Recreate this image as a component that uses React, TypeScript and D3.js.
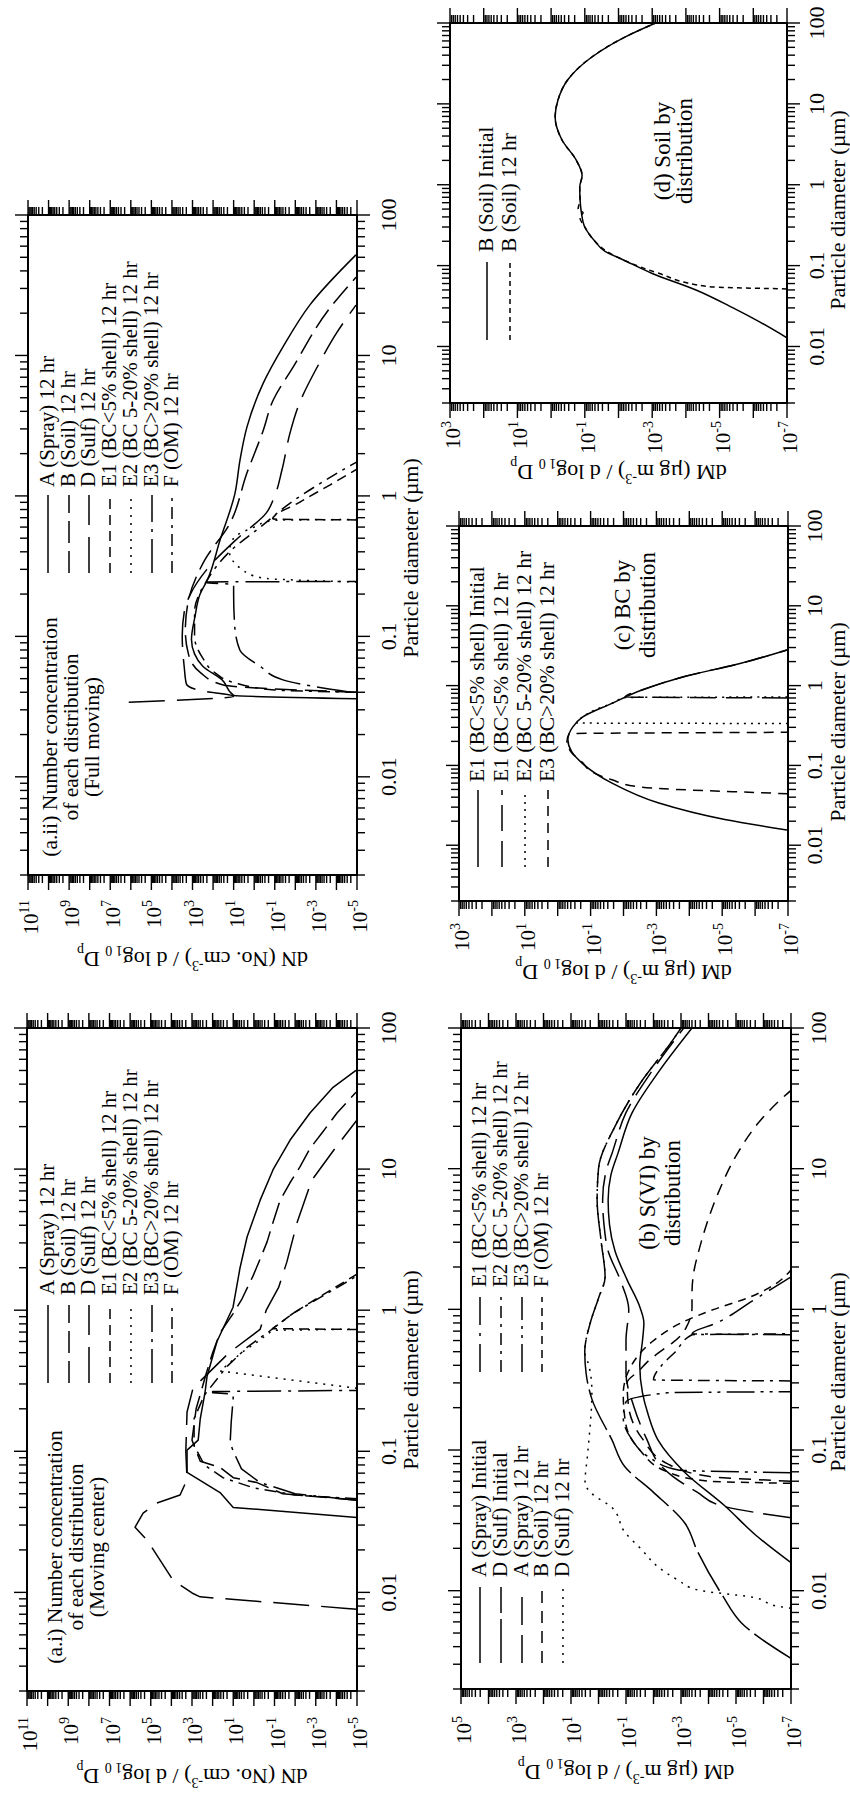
import React from 'react';
import * as d3 from 'd3';

type Pt = [number, number]; // [particle diameter (µm), log10 of plotted value]

// ---------------- shared axis values ----------------
const diameterDomain: [number, number] = [0.002, 100];
const diameterTicks = [0.01, 0.1, 1, 10, 100];
const diameterTickLabels = ['0.01', '0.1', '1', '10', '100'];
const numberExpRange: [number, number] = [-5, 11];
const numberTickExps = [11, 9, 7, 5, 3, 1, -1, -3, -5];
const massExpRangeB: [number, number] = [-7, 5];
const massTickExpsB = [5, 3, 1, -1, -3, -5, -7];
const massExpRangeCD: [number, number] = [-7, 3];
const massTickExpsCD = [3, 1, -1, -3, -5, -7];

// ---------------- (a.i) number concentration, moving center ----------------
const aiSpray12: Pt[] = [[0.034, -5], [0.040, 1.0], [0.051, 1.64], [0.071, 3.24], [0.102, 3.24], [0.12, 2.7], [0.17, 2.6], [0.26, 2.37], [0.34, 2.27], [0.6, 1.79], [1.05, 1.01], [2.0, 0.67], [3.3, 0.33], [6.0, -0.3], [9.9, -0.93], [16, -1.75], [25, -2.72], [38, -3.84], [50, -4.95]];
const aiSoil12: Pt[] = [[0.045, -5], [0.05, -1.4], [0.06, -0.15], [0.065, 1.0], [0.077, 1.64], [0.085, 2.6], [0.12, 3.0], [0.2, 2.8], [0.36, 2.3], [0.5, 2.0], [0.69, 1.64], [0.95, 1.0], [1.2, 0.58], [1.75, 0.04], [2.3, -0.3], [3.05, -0.64], [4.2, -0.93], [6.0, -1.27], [8, -1.75], [10.4, -2.24], [14, -2.72], [18, -3.3], [25, -4.03], [35, -4.95]];
const aiSulf12: Pt[] = [[0.0076, -5], [0.0077, -4.5], [0.0093, 2.61], [0.0099, 3.0], [0.0122, 3.92], [0.0235, 5.18], [0.029, 5.76], [0.0365, 5.37], [0.043, 4.7], [0.049, 3.58], [0.063, 3.24], [0.1, 3.3], [0.19, 3.24], [0.28, 2.95], [0.5, 1.2], [0.73, -0.3], [1.0, -0.6], [1.45, -1.2], [2.2, -1.6], [4.2, -2.1], [8.3, -2.8], [14, -3.93], [22.3, -5]];
const aiE1: Pt[] = [[0.73, -5], [0.74, -0.9], [0.95, -1.9], [1.3, -3.4], [1.8, -5]];
const aiE2: Pt[] = [[0.28, -5], [0.37, 1.64], [0.5, 0.6], [0.6, -0.2], [0.72, -0.9], [0.735, -5]];
const aiE3: Pt[] = [[0.045, -5], [0.05, -2.0], [0.06, -0.3], [0.075, 0.6], [0.1, 1.0], [0.115, 1.15], [0.16, 1.1], [0.24, 1.0], [0.255, 1.05], [0.26, 2.0], [0.265, 2.0], [0.27, -5]];
const aiOM12: Pt[] = [[0.046, -5], [0.049, -2], [0.055, 0], [0.065, 1.5], [0.08, 2.4], [0.11, 2.9], [0.17, 2.9], [0.25, 2.4], [0.4, 1.3], [0.55, 0.3], [0.7, -0.7], [0.95, -1.9], [1.3, -3.5], [1.75, -5]];

// ---------------- (a.ii) number concentration, full moving ----------------
const aiiSpray12: Pt[] = [[0.036, -5], [0.038, 1.0], [0.049, 1.56], [0.061, 2.49], [0.075, 2.9], [0.095, 3.05], [0.138, 2.88], [0.2, 2.63], [0.25, 2.29], [0.485, 1.66], [1.05, 0.93], [1.8, 0.69], [3.1, 0.35], [6.3, -0.43], [11.5, -1.4], [23, -2.72], [52, -4.95]];
const aiiSoil12: Pt[] = [[0.04, -5], [0.045, 1.5], [0.055, 2.6], [0.075, 3.2], [0.11, 3.35], [0.18, 3.2], [0.35, 2.4], [0.63, 1.2], [1.46, 0.35], [2.9, -0.43], [4.8, -0.92], [8.3, -1.9], [21, -3.6], [36, -4.95]];
const aiiSulf12: Pt[] = [[0.034, 6.1], [0.0375, 1.0], [0.041, 2.6], [0.046, 3.3], [0.06, 3.4], [0.1, 3.5], [0.15, 3.4], [0.2, 3.1], [0.3, 2.3], [0.5, 0.8], [0.76, -0.6], [1.0, -1.0], [1.53, -1.35], [2.8, -1.74], [4.3, -2.13], [9, -3.2], [14.4, -4.0], [22.8, -4.95]];
const aiiE1: Pt[] = [[0.675, -5], [0.685, -0.9], [0.9, -2.2], [1.2, -3.7], [1.55, -5]];
const aiiE2: Pt[] = [[0.244, -5], [0.26, -0.4], [0.3, 0.6], [0.4, 1.2], [0.5, 1.0], [0.6, 0.0], [0.67, -0.9], [0.68, -5]];
const aiiE3: Pt[] = [[0.04, -4.7], [0.044, -2.9], [0.049, -1.4], [0.061, -0.3], [0.08, 0.7], [0.12, 0.95], [0.2, 1.0], [0.235, 1.0], [0.24, 2.3], [0.244, 2.3], [0.246, -5]];
const aiiOM12: Pt[] = [[0.04, -5], [0.0415, -1], [0.047, 1.0], [0.055, 1.9], [0.07, 2.5], [0.1, 2.9], [0.15, 2.9], [0.25, 2.3], [0.4, 1.2], [0.6, -0.3], [0.9, -1.8], [1.25, -3.3], [1.75, -5]];

// ---------------- (b) S(VI) mass by distribution ----------------
const bSprayInit: Pt[] = [[0.0158, -7], [0.025, -5.7], [0.04, -4.6], [0.069, -3.15], [0.118, -2.16], [0.18, -1.8], [0.255, -1.6], [0.4, -1.5], [0.6, -1.6], [0.8, -1.65], [1.03, -1.51], [1.62, -1.04], [2.6, -0.6], [4, -0.4], [6.0, -0.35], [9, -0.45], [12.9, -0.71], [24.9, -1.22], [48, -2.16], [100, -3.4]];
const bSulfInit: Pt[] = [[0.0033, -7], [0.0059, -5.2], [0.0093, -4.5], [0.019, -3.6], [0.03, -3.15], [0.05, -2.0], [0.076, -0.96], [0.118, -0.49], [0.23, 0.24], [0.35, 0.45], [0.5, 0.5], [0.8, 0.3], [1.2, 0.0], [1.7, -0.24], [3, -0.1], [6, 0.05], [10, 0.0], [20, -0.6], [40, -1.5], [82, -2.7], [100, -3.0]];
const bSpray12: Pt[] = [[0.033, -7], [0.04, -4.5], [0.05, -3.6], [0.065, -2.7], [0.076, -2.3], [0.12, -1.75], [0.2, -1.3], [0.35, -1.0], [0.6, -1.0], [1.0, -1.1], [1.6, -0.8], [2.6, -0.35], [4, -0.2], [6, -0.15], [10, -0.3], [13, -0.5], [25, -1.0], [48, -1.9], [100, -3.1]];
const bSoil12: Pt[] = [[0.06, -7], [0.065, -4], [0.08, -2.5], [0.12, -1.6], [0.2, -1.1], [0.3, -1.04], [0.37, -1.5], [0.42, -1.76], [0.5, -2.24], [0.58, -2.7], [0.68, -3.07], [0.75, -3.2], [1.03, -3.4], [1.3, -3.4], [2.0, -3.5], [2.4, -3.6], [3.7, -3.87], [6.7, -4.35], [13, -5.07], [21, -5.8], [32, -6.7], [36, -7]];
const bSulf12: Pt[] = [[0.0075, -7], [0.0077, -6.6], [0.009, -5.58], [0.0101, -3.62], [0.0119, -2.89], [0.0148, -2.16], [0.0195, -1.58], [0.026, -0.96], [0.039, -0.49], [0.049, 0.24], [0.058, 0.49], [0.1, 0.38], [0.26, 0.24], [0.4, 0.35], [0.5, 0.5], [0.8, 0.3], [1.2, 0.0], [1.7, -0.24], [3, -0.1], [6, 0.05], [10, 0.0], [20, -0.6], [40, -1.5], [82, -2.7], [100, -3.0]];
const bE1: Pt[] = [[0.66, -7], [0.67, -3.4], [0.8, -4.3], [1.15, -5.6], [1.4, -6.3], [1.7, -7]];
const bE2: Pt[] = [[0.31, -7], [0.315, -2.0], [0.4, -2.3], [0.5, -2.8], [0.66, -3.4], [0.67, -7]];
const bE3: Pt[] = [[0.069, -7], [0.072, -2.9], [0.09, -1.8], [0.12, -1.2], [0.17, -0.9], [0.22, -1.0], [0.255, -2.5], [0.26, -7]];
const bOM12: Pt[] = [[0.058, -7], [0.06, -4.0], [0.07, -2.5], [0.1, -1.5], [0.15, -1.0], [0.25, -0.9], [0.4, -1.2], [0.6, -2.0], [0.8, -3.0], [1.0, -4.2], [1.2, -5.4], [1.5, -6.4], [1.9, -7]];

// ---------------- (c) BC mass by distribution ----------------
const cE1Init: Pt[] = [[0.0155, -6.97], [0.021, -5.08], [0.034, -3.05], [0.06, -1.65], [0.107, -0.74], [0.15, -0.42], [0.21, -0.31], [0.3, -0.45], [0.4, -0.74], [0.6, -1.65], [0.88, -2.56], [1.28, -3.8], [1.92, -5.6], [2.8, -6.97]];
const cE1Hr12: Pt[] = [[0.70, -7], [0.72, -2.05], [0.88, -2.56], [1.28, -3.8], [1.92, -5.6], [2.8, -6.97]];
const cE2Hr12: Pt[] = [[0.335, -7], [0.34, -0.58], [0.4, -0.74], [0.5, -1.15], [0.6, -1.65], [0.71, -2.05], [0.72, -7]];
const cE3Hr12: Pt[] = [[0.044, -7], [0.045, -6.5], [0.049, -4.08], [0.054, -2.44], [0.066, -1.65], [0.083, -1.04], [0.11, -0.74], [0.143, -0.43], [0.2, -0.28], [0.25, -0.35], [0.26, -7]];

// ---------------- (d) Soil mass by distribution ----------------
const dSoilInit: Pt[] = [[0.0128, -7], [0.02, -6.2], [0.03, -5.4], [0.05, -4.3], [0.08, -3.0], [0.12, -2.1], [0.15, -1.6], [0.2, -1.3], [0.3, -1.0], [0.45, -0.9], [0.65, -0.86], [0.94, -0.85], [1.3, -0.92], [2.0, -0.75], [3.6, -0.32], [6.9, -0.12], [11, -0.2], [20, -0.5], [38, -1.21], [67, -2.19], [100, -3.1]];
const dSoil12: Pt[] = [[0.0515, -7], [0.055, -4.66], [0.081, -3.17], [0.11, -2.3], [0.15, -1.65], [0.2, -1.3], [0.3, -1.0], [0.4, -0.85], [0.45, -0.95], [0.5, -0.8], [0.65, -0.86], [0.94, -0.85], [1.3, -0.92], [2.0, -0.75], [3.6, -0.32], [6.9, -0.12], [11, -0.2], [20, -0.5], [38, -1.21], [67, -2.19], [100, -3.1]];

// ---------------- styles ----------------
const SERIF = "'Liberation Serif', 'Times New Roman', Times, serif";
const MU = '\u00b5';
const FIG_W = 1798; // upright width  (becomes page height)
const FIG_H = 850;  // upright height (becomes page width)

type Series = { name: string; data: Pt[]; dash?: string };
type LegendCol = { x0: number; x1: number; tx: number; rows: number[]; items: Series[]; fontSize: number };
type PanelCfg = {
  key: string;
  box: { left: number; right: number; top: number; bottom: number };
  exp: [number, number];
  tickExps: number[];
  quantity: 'N' | 'M';
  yLabelGap: number;
  yTitleU: number;
  xLabelDy: number;
  xTitleDy: number;
  xTitleCu: number;
  smooth: boolean;
  series: Series[];
  legends: LegendCol[];
  note: { cu: number; vs: number[]; lines: string[]; fontSize: number };
};

const aSeriesI: Series[] = [
  { name: 'A (Spray) 12 hr', data: aiSpray12 },
  { name: 'B (Soil) 12 hr', data: aiSoil12, dash: '22,8' },
  { name: 'D (Sulf) 12 hr', data: aiSulf12, dash: '36,12' },
  { name: 'E1 (BC<5% shell) 12 hr', data: aiE1, dash: '10,6' },
  { name: 'E2 (BC 5-20% shell) 12 hr', data: aiE2, dash: '2,6' },
  { name: 'E3 (BC>20% shell) 12 hr', data: aiE3, dash: '34,7,3,7' },
  { name: 'F (OM) 12 hr', data: aiOM12, dash: '12,6,3,6' },
];
const aSeriesII: Series[] = [
  { name: 'A (Spray) 12 hr', data: aiiSpray12 },
  { name: 'B (Soil) 12 hr', data: aiiSoil12, dash: '22,8' },
  { name: 'D (Sulf) 12 hr', data: aiiSulf12, dash: '36,12' },
  { name: 'E1 (BC<5% shell) 12 hr', data: aiiE1, dash: '10,6' },
  { name: 'E2 (BC 5-20% shell) 12 hr', data: aiiE2, dash: '2,6' },
  { name: 'E3 (BC>20% shell) 12 hr', data: aiiE3, dash: '34,7,3,7' },
  { name: 'F (OM) 12 hr', data: aiiOM12, dash: '12,6,3,6' },
];
const bSeries: Series[] = [
  { name: 'A (Spray) Initial', data: bSprayInit },
  { name: 'D (Sulf) Initial', data: bSulfInit, dash: '44,6' },
  { name: 'A (Spray) 12 hr', data: bSpray12, dash: '28,10' },
  { name: 'B (Soil) 12 hr', data: bSoil12, dash: '12,8' },
  { name: 'D (Sulf) 12 hr', data: bSulf12, dash: '2,6' },
  { name: 'E1 (BC<5% shell) 12 hr', data: bE1, dash: '28,8,3,8' },
  { name: 'E2 (BC 5-20% shell) 12 hr', data: bE2, dash: '12,6,3,6' },
  { name: 'E3 (BC>20% shell) 12 hr', data: bE3, dash: '28,6,3,6,3,6' },
  { name: 'F (OM) 12 hr', data: bOM12, dash: '8,6' },
];
const cSeries: Series[] = [
  { name: 'E1 (BC<5% shell) Initial', data: cE1Init },
  { name: 'E1 (BC<5% shell) 12 hr', data: cE1Hr12, dash: '26,10' },
  { name: 'E2 (BC 5-20% shell) 12 hr', data: cE2Hr12, dash: '2,5' },
  { name: 'E3 (BC>20% shell) 12 hr', data: cE3Hr12, dash: '10,7' },
];
const dSeries: Series[] = [
  { name: 'B (Soil) Initial', data: dSoilInit },
  { name: 'B (Soil) 12 hr', data: dSoil12, dash: '5,4' },
];

const aRows = [48, 69, 89, 110, 131, 152, 172];

const panels: PanelCfg[] = [
  {
    key: 'ai', box: { left: 107, right: 770, top: 27, bottom: 357 }, exp: numberExpRange, tickExps: numberTickExps,
    quantity: 'N', yLabelGap: 26, yTitleU: 29, xLabelDy: 39, xTitleDy: 61, xTitleCu: 428, smooth: false,
    series: aSeriesI,
    legends: [{ x0: 415, x1: 493, tx: 503, rows: aRows, items: aSeriesI, fontSize: 21 }],
    note: { cu: 251, vs: [62, 83, 104], lines: ['(a.i) Number concentration', 'of each distribution', '(Moving center)'], fontSize: 21.5 },
  },
  {
    key: 'aii', box: { left: 923, right: 1583, top: 28, bottom: 357 }, exp: numberExpRange, tickExps: numberTickExps,
    quantity: 'N', yLabelGap: 25, yTitleU: 846, xLabelDy: 39, xTitleDy: 61, xTitleCu: 1240, smooth: true,
    series: aSeriesII,
    legends: [{ x0: 1225, x1: 1303, tx: 1311, rows: aRows, items: aSeriesII, fontSize: 21 }],
    note: { cu: 1061, vs: [57, 78, 99], lines: ['(a.ii) Number concentration', 'of each distribution', '(Full moving)'], fontSize: 21.5 },
  },
  {
    key: 'b', box: { left: 109, right: 770, top: 461, bottom: 791 }, exp: massExpRangeB, tickExps: massTickExpsB,
    quantity: 'M', yLabelGap: 27, yTitleU: 33, xLabelDy: 35, xTitleDy: 54, xTitleCu: 426, smooth: true,
    series: bSeries,
    legends: [
      { x0: 135, x1: 211, tx: 221, rows: [480, 501, 522, 542, 563], items: bSeries.slice(0, 5), fontSize: 21 },
      { x0: 426, x1: 501, tx: 511, rows: [480, 501, 522, 542], items: bSeries.slice(5), fontSize: 21 },
    ],
    note: { cu: 605, vs: [655, 680], lines: ['(b) S(VI) by', 'distribution'], fontSize: 23 },
  },
  {
    key: 'c', box: { left: 897, right: 1272, top: 459, bottom: 788 }, exp: massExpRangeCD, tickExps: massTickExpsCD,
    quantity: 'M', yLabelGap: 22, yTitleU: 833, xLabelDy: 34, xTitleDy: 57, xTitleCu: 1076, smooth: true,
    series: cSeries,
    legends: [{ x0: 931, x1: 1008, tx: 1016, rows: [478, 502, 525, 548], items: cSeries, fontSize: 21.5 }],
    note: { cu: 1193, vs: [630, 655], lines: ['(c) BC by', 'distribution'], fontSize: 23 },
  },
  {
    key: 'd', box: { left: 1395, right: 1775, top: 450, bottom: 787 }, exp: massExpRangeCD, tickExps: massTickExpsCD,
    quantity: 'M', yLabelGap: 18, yTitleU: 1333, xLabelDy: 37, xTitleDy: 58, xTitleCu: 1588, smooth: true,
    series: dSeries,
    legends: [{ x0: 1458, x1: 1536, tx: 1546, rows: [487, 510], items: dSeries, fontSize: 21.5 }],
    note: { cu: 1647, vs: [670, 692], lines: ['(d) Soil by', 'distribution'], fontSize: 23 },
  },
];

function YTitle({ u, v, quantity }: { u: number; v: number; quantity: 'N' | 'M' }) {
  return (
    <text transform={`translate(${u},${v}) rotate(-90)`} textAnchor="middle" fontFamily={SERIF} fontSize={22}>
      {quantity === 'N' ? 'dN (No. cm' : `dM (${MU}g m`}
      <tspan dy={-9} fontSize={14}>-3</tspan>
      <tspan dy={9}>{') / d log'}</tspan>
      <tspan dy={6} fontSize={14}>{'1 0'}</tspan>
      <tspan dy={-6}>{' D'}</tspan>
      <tspan dy={6} fontSize={14}>p</tspan>
    </text>
  );
}

function Panel({ p }: { p: PanelCfg }) {
  const { left, right, top, bottom } = p.box;
  const x = d3.scaleLog().domain(diameterDomain).range([left, right]);
  const y = d3.scaleLog().domain([10 ** p.exp[0], 10 ** p.exp[1]]).range([bottom, top]);
  const line = d3.line<Pt>()
    .x((d) => x(d[0]))
    .y((d) => y(10 ** d[1]))
    .curve(p.smooth ? d3.curveMonotoneX : d3.curveLinear);

  const xTicks: { v: number; major: boolean }[] = [];
  for (let k = -3; k <= 2; k++) {
    for (let m = 1; m <= 9; m++) {
      const v = m * 10 ** k;
      if (v >= diameterDomain[0] * 0.999 && v <= diameterDomain[1] * 1.001) xTicks.push({ v, major: m === 1 });
    }
  }
  const yTicks: { v: number; major: boolean }[] = [];
  for (let e = p.exp[0]; e <= p.exp[1]; e++) {
    yTicks.push({ v: 10 ** e, major: true });
    if (e < p.exp[1]) for (let m = 2; m <= 9; m++) yTicks.push({ v: m * 10 ** e, major: false });
  }
  const clipId = `clip-${p.key}`;
  const vMid = (top + bottom) / 2;

  return (
    <g>
      <defs>
        <clipPath id={clipId}>
          <rect x={left} y={top} width={right - left} height={bottom - top} />
        </clipPath>
      </defs>
      <g stroke="#000" strokeWidth={1.4}>
        {xTicks.map((t, i) => {
          const px = x(t.v);
          const len = t.major ? 13 : 8;
          return (
            <g key={`x${i}`}>
              <line x1={px} x2={px} y1={bottom} y2={bottom + len} />
              <line x1={px} x2={px} y1={top} y2={top - len} />
            </g>
          );
        })}
        {yTicks.map((t, i) => {
          const py = y(t.v);
          const len = t.major ? 15 : 8;
          return (
            <g key={`y${i}`}>
              <line x1={left} x2={left - len} y1={py} y2={py} />
              <line x1={right} x2={right + len} y1={py} y2={py} />
            </g>
          );
        })}
      </g>
      <g clipPath={`url(#${clipId})`} fill="none" stroke="#000" strokeWidth={1.5}>
        {p.series.map((s) => (
          <path key={s.name} d={line(s.data) || ''} strokeDasharray={s.dash} strokeLinejoin="round" />
        ))}
      </g>
      <rect x={left} y={top} width={right - left} height={bottom - top} fill="none" stroke="#000" strokeWidth={2} />
      {diameterTicks.map((t, i) => (
        <text key={`xl${i}`} x={x(t)} y={bottom + p.xLabelDy} textAnchor="middle" fontFamily={SERIF} fontSize={22}>
          {diameterTickLabels[i]}
        </text>
      ))}
      <text x={p.xTitleCu} y={bottom + p.xTitleDy} textAnchor="middle" fontFamily={SERIF} fontSize={22}>
        {`Particle diameter (${MU}m)`}
      </text>
      {p.tickExps.map((e) => (
        <text key={`yl${e}`} x={left - p.yLabelGap} y={y(10 ** e) + 10} textAnchor="end" fontFamily={SERIF} fontSize={21}>
          10<tspan dy={-9} fontSize={14}>{String(e)}</tspan>
        </text>
      ))}
      <YTitle u={p.yTitleU} v={vMid} quantity={p.quantity} />
      {p.legends.map((col, ci) => (
        <g key={`lg${ci}`}>
          {col.items.map((s, i) => (
            <g key={s.name}>
              <line x1={col.x0} x2={col.x1} y1={col.rows[i]} y2={col.rows[i]} stroke="#000" strokeWidth={1.5} strokeDasharray={s.dash} />
              <text x={col.tx} y={col.rows[i] + 6} fontFamily={SERIF} fontSize={col.fontSize}>{s.name}</text>
            </g>
          ))}
        </g>
      ))}
      {p.note.lines.map((ln, i) => (
        <text key={`n${i}`} x={p.note.cu} y={p.note.vs[i]} textAnchor="middle" fontFamily={SERIF} fontSize={p.note.fontSize}>
          {ln}
        </text>
      ))}
    </g>
  );
}

export default function App() {
  return (
    <svg
      width={FIG_H}
      height={FIG_W}
      viewBox={`0 0 ${FIG_H} ${FIG_W}`}
      style={{ position: 'absolute', left: 0, top: 0, background: '#fff' }}
    >
      <rect x={0} y={0} width={FIG_H} height={FIG_W} fill="#fff" />
      <g transform={`translate(0,${FIG_W}) rotate(-90)`}>
        {panels.map((p) => (
          <Panel key={p.key} p={p} />
        ))}
      </g>
    </svg>
  );
}
